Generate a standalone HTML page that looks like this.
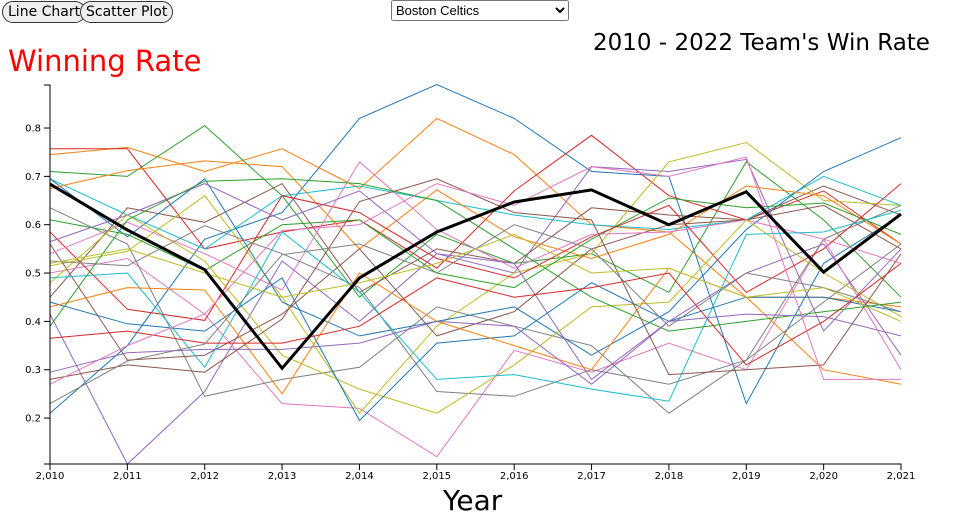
<!DOCTYPE html>
<html><head><meta charset="utf-8"><style>
body{margin:0;width:960px;height:500px;overflow:hidden;background:#fff;font-family:"Liberation Sans",sans-serif;position:relative}
button{position:absolute;top:1px;height:22px;border:1px solid #333;border-radius:11px;background:#eee;font-size:14px;font-family:"DejaVu Sans","Liberation Sans",sans-serif;padding:0 5px}
select{position:absolute;left:391px;top:0;width:178px;height:21px;font-size:13px}
.t{position:absolute;white-space:nowrap;font-family:"DejaVu Sans","Liberation Sans",sans-serif}
svg{position:absolute;left:0;top:0}
</style></head><body>
<button style="left:2px">Line Chart</button>
<button style="left:80px">Scatter Plot</button>
<select><option>Boston Celtics</option></select>
<div class="t" style="left:593px;top:30px;font-size:23px">2010 - 2022 Team's Win Rate</div>
<div class="t" style="left:8px;top:44px;font-size:29px;color:#f00">Winning Rate</div>
<div class="t" style="left:443px;top:484px;font-size:28px">Year</div>
<svg id="chart" width="960" height="500"></svg>
<script>
const years=[2010,2011,2012,2013,2014,2015,2016,2017,2018,2019,2020,2021];
const yTicks=[0.2,0.3,0.4,0.5,0.6,0.7,0.8];
const highlight=[0.684,0.589,0.507,0.303,0.49,0.585,0.647,0.672,0.6,0.668,0.502,0.622];
const teams=[
[0.21,0.35,0.57,0.625,0.82,0.89,0.82,0.71,0.70,0.23,0.52,0.62],
[0.745,0.76,0.71,0.757,0.675,0.82,0.745,0.60,0.585,0.45,0.45,0.43],
[0.71,0.70,0.805,0.66,0.45,0.58,0.52,0.54,0.46,0.73,0.61,0.45],
[0.757,0.757,0.55,0.585,0.61,0.51,0.67,0.785,0.66,0.61,0.67,0.56],
[0.415,0.105,0.255,0.525,0.40,0.54,0.50,0.72,0.71,0.735,0.38,0.55],
[0.45,0.635,0.605,0.685,0.46,0.55,0.52,0.635,0.62,0.61,0.68,0.62],
[0.5,0.53,0.415,0.23,0.22,0.12,0.34,0.295,0.355,0.30,0.57,0.52],
[0.635,0.56,0.245,0.28,0.305,0.43,0.39,0.35,0.21,0.32,0.57,0.64],
[0.515,0.545,0.66,0.45,0.21,0.39,0.50,0.54,0.73,0.77,0.65,0.64],
[0.695,0.62,0.55,0.66,0.68,0.65,0.62,0.60,0.59,0.61,0.70,0.64],
[0.695,0.575,0.695,0.44,0.37,0.40,0.43,0.33,0.42,0.59,0.71,0.78],
[0.675,0.712,0.732,0.72,0.55,0.672,0.575,0.53,0.58,0.68,0.66,0.56],
[0.61,0.58,0.505,0.60,0.61,0.50,0.47,0.57,0.655,0.635,0.645,0.58],
[0.585,0.425,0.402,0.66,0.625,0.53,0.49,0.575,0.64,0.46,0.55,0.685],
[0.565,0.62,0.685,0.61,0.67,0.54,0.52,0.28,0.40,0.50,0.56,0.33],
[0.56,0.32,0.33,0.415,0.55,0.37,0.42,0.55,0.60,0.61,0.64,0.55],
[0.54,0.605,0.54,0.465,0.73,0.59,0.51,0.58,0.585,0.61,0.57,0.30],
[0.525,0.515,0.598,0.54,0.47,0.255,0.245,0.30,0.27,0.32,0.44,0.56],
[0.48,0.62,0.525,0.33,0.26,0.21,0.31,0.43,0.44,0.61,0.50,0.41],
[0.49,0.50,0.305,0.585,0.46,0.28,0.29,0.26,0.235,0.58,0.585,0.63],
[0.44,0.395,0.38,0.49,0.195,0.355,0.37,0.48,0.40,0.45,0.45,0.42],
[0.43,0.47,0.465,0.25,0.50,0.40,0.35,0.30,0.51,0.45,0.30,0.27],
[0.39,0.61,0.69,0.695,0.685,0.65,0.55,0.45,0.38,0.40,0.42,0.44],
[0.365,0.38,0.355,0.355,0.39,0.49,0.45,0.47,0.50,0.31,0.40,0.52],
[0.295,0.335,0.342,0.342,0.355,0.40,0.39,0.27,0.40,0.415,0.41,0.37],
[0.28,0.31,0.295,0.405,0.648,0.695,0.625,0.61,0.29,0.30,0.31,0.54],
[0.27,0.35,0.415,0.588,0.60,0.685,0.64,0.72,0.70,0.74,0.28,0.28],
[0.23,0.318,0.353,0.538,0.56,0.50,0.60,0.55,0.39,0.50,0.47,0.42],
[0.52,0.55,0.50,0.45,0.48,0.52,0.58,0.50,0.51,0.45,0.47,0.40]
];
const colors=["#1f77b4","#ff7f0e","#2ca02c","#d62728","#9467bd","#8c564b","#e377c2","#7f7f7f","#bcbd22","#17becf"];
const svg=document.getElementById('chart');
const NS="http://www.w3.org/2000/svg";
const x0=50,x1=901,yTop=85,yBot=464,vMin=0.105,vMax=0.889;
function xs(yr){return x0+(yr-years[0])/(years[years.length-1]-years[0])*(x1-x0);}
function ys(v){return yBot-(v-vMin)/(vMax-vMin)*(yBot-yTop);}
function mk(tag,attrs){const e=document.createElementNS(NS,tag);for(const k in attrs)e.setAttribute(k,attrs[k]);svg.appendChild(e);return e;}
function line(vals,color,w,name){
  const d=vals.map((v,i)=>(i?'L':'M')+xs(years[i]).toFixed(1)+','+ys(v).toFixed(1)).join('');
  const p=mk('path',{d:d,fill:'none',stroke:color,'stroke-width':w});
  
  
}
teams.forEach((t,i)=>line(t,colors[i%10],1,'team-line-'+(i+1)));
line(highlight,'#000',3,'boston-celtics-line');
// axes
const ya=mk('path',{d:`M${x0-6},${yTop}H${x0}V${yBot}H${x0-6}`,fill:'none',stroke:'#000'});


yTicks.forEach(v=>{
  const y=ys(v);
  const tk=mk('line',{x1:x0-6,x2:x0,y1:y,y2:y,stroke:'#000'});
  
  
  const tx=mk('text',{x:x0-9,y:y+3.5,'text-anchor':'end','font-size':10,'font-family':'DejaVu Sans, Liberation Sans, sans-serif',fill:'#000'});
  tx.textContent=v.toFixed(1);
  
  
});
const xa=mk('path',{d:`M${x0},${yBot+6}V${yBot}H${x1}V${yBot+6}`,fill:'none',stroke:'#000'});


years.forEach(yr=>{
  const x=xs(yr);
  const tk=mk('line',{x1:x,x2:x,y1:yBot,y2:yBot+6,stroke:'#000'});
  
  
  const tx=mk('text',{x:x,y:yBot+15,'text-anchor':'middle','font-size':10,'font-family':'DejaVu Sans, Liberation Sans, sans-serif',fill:'#000'});
  tx.textContent=yr.toLocaleString('en-US');
  
  
});
</script>
</body></html>
